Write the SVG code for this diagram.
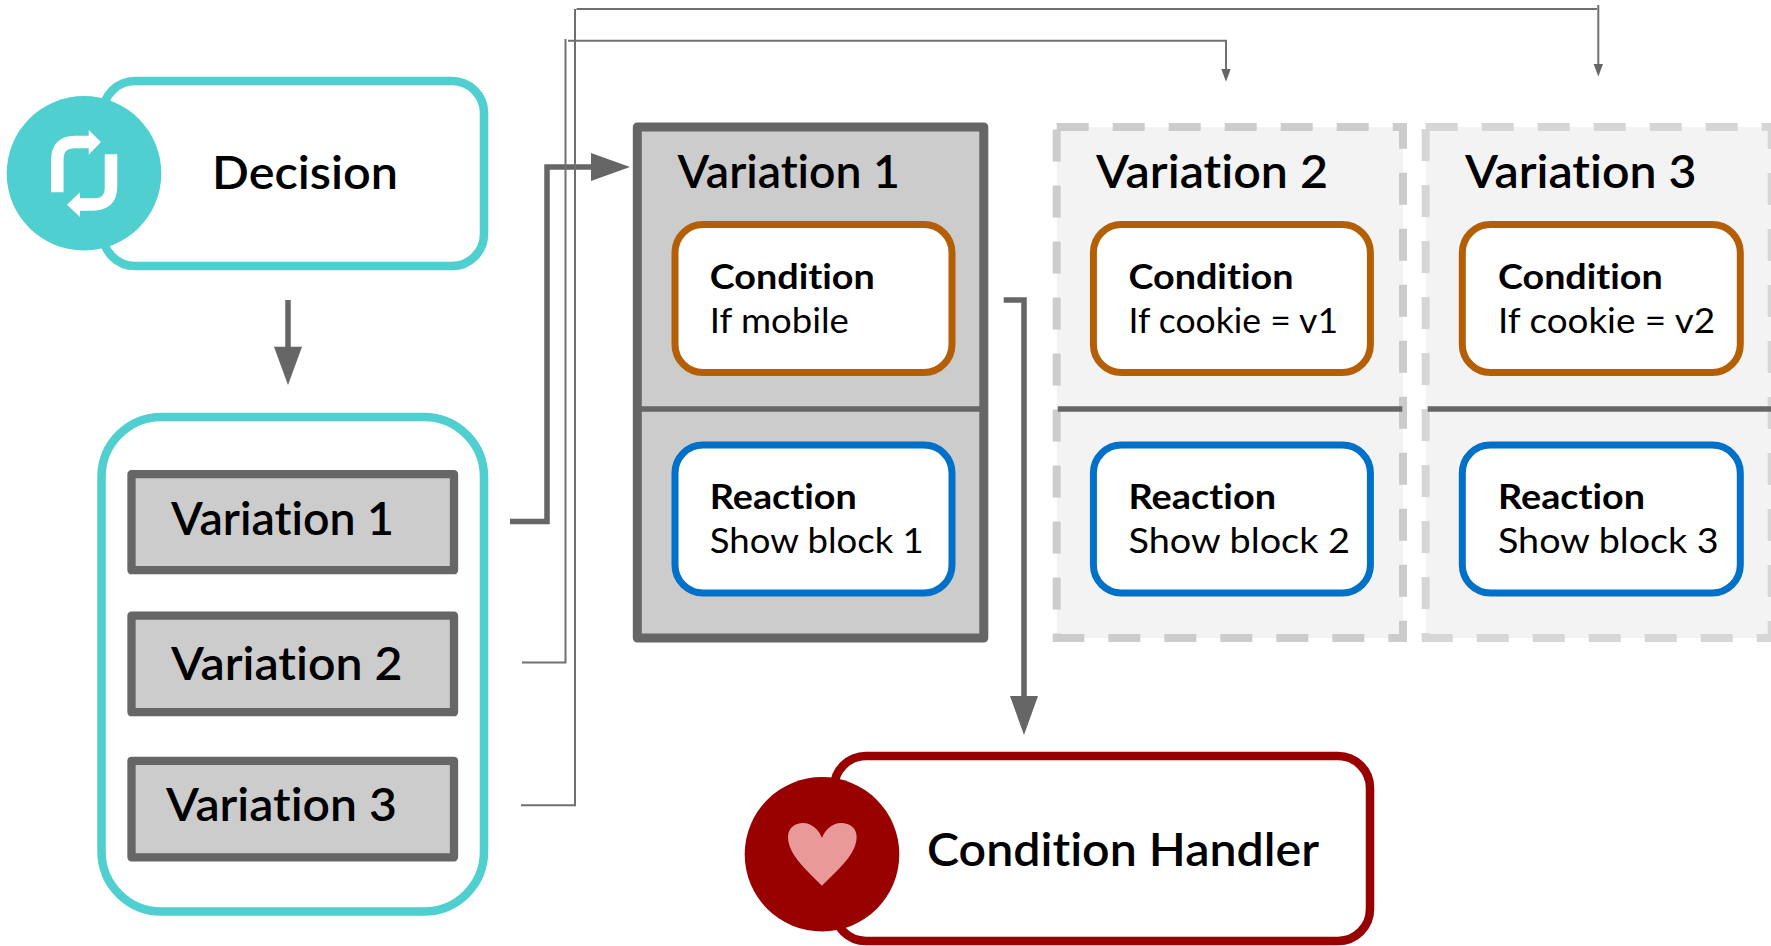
<svg xmlns="http://www.w3.org/2000/svg" width="1771" height="946" viewBox="0 0 1771 946">
<style>
text{font-family:"Lato","Liberation Sans",sans-serif;fill:#000;font-variant-ligatures:none}
.t{font-size:46px;font-weight:600}
.b{font-size:34px;font-weight:700}
.r{font-size:34px}
.thick{fill:none;stroke:#666;stroke-width:5.5}
.thin{fill:none;stroke:#707070;stroke-width:2}
.ah{fill:#666;stroke:none}
.item{fill:#ccc;stroke:#666;stroke-width:8.3;stroke-linejoin:round}
.teal{fill:#fff;stroke:#50cfd0;stroke-width:8.5}
.red{fill:#fff;stroke:#900;stroke-width:8.5}
.cond{fill:#fff;stroke:#b45f06;stroke-width:7}
.reac{fill:#fff;stroke:#0070c9;stroke-width:7}
.div{stroke:#666;stroke-width:5.5}
.dash{fill:#f3f3f3;stroke:#ccc;stroke-width:8;stroke-dasharray:32 24}
</style>
<g id="connectors">
<path class="thick" d="M288 300V350"/><path class="ah" d="M274 346.7H302L288 385Z"/>
<path class="thick" d="M510 521.6H547V167H595"/><path class="ah" d="M591 153L630 167L591 181Z"/>
<path class="thin" d="M522 662.4H565.5V39"/><path class="thin" d="M568 40.7H1226V70"/><path class="ah" d="M1221.3 69H1230.7L1226 81.7Z"/>
<path class="thin" d="M521 805.2H575V9"/><path class="thin" d="M576.5 9H1597"/><path class="thin" d="M1598.3 5V66"/><path class="ah" d="M1593.6 64H1603L1598.3 76.6Z"/>
<path class="thick" d="M1003.7 300H1024V700"/><path class="ah" d="M1010 696H1038L1024 735Z"/>
</g>
<g id="decision">
<rect class="teal" x="103" y="81" width="381" height="185" rx="32"/>
<circle cx="84" cy="173.3" r="77.3" fill="#50cfd0"/>
<path d="M57.3 192.3V160Q57.3 142 75 142H90M111 154.3V187Q111 204.5 93 204.5H79" fill="none" stroke="#fff" stroke-width="12.5"/>
<path d="M88.7 130L101 142L88.7 154.7ZM80 192.3L67 204.7L80 217Z" fill="#fff"/>
<text class="t" x="212" y="189" textLength="186" lengthAdjust="spacingAndGlyphs">Decision</text>
</g>
<g id="variation-list">
<rect class="teal" x="101.5" y="417" width="382.5" height="494.5" rx="60"/>
</g>
<g id="list-variation-1"><rect class="item" x="131.5" y="474.2" width="322.5" height="96"/>
<text class="t" x="171" y="534.8" textLength="223" lengthAdjust="spacingAndGlyphs">Variation 1</text></g>
<g id="list-variation-2"><rect class="item" x="131.5" y="615.7" width="322.5" height="96.5"/>
<text class="t" x="171" y="679.8" textLength="231.5" lengthAdjust="spacingAndGlyphs">Variation 2</text></g>
<g id="list-variation-3"><rect class="item" x="131.5" y="760.8" width="322.5" height="96.5"/>
<text class="t" x="166" y="821" textLength="231" lengthAdjust="spacingAndGlyphs">Variation 3</text></g>
<g id="variation-1">
<rect x="637.3" y="127" width="346.5" height="511" fill="#ccc" stroke="#666" stroke-width="9" stroke-linejoin="round"/>
<path class="div" d="M637 409H983"/>
<text class="t" x="677.5" y="187.5" textLength="222.5" lengthAdjust="spacingAndGlyphs">Variation 1</text>
<rect class="cond" x="675" y="224.5" width="277" height="148" rx="28"/>
<text class="b" x="709.8" y="289" textLength="165" lengthAdjust="spacingAndGlyphs">Condition</text>
<text class="r" x="709.8" y="332.5" textLength="139" lengthAdjust="spacingAndGlyphs">If mobile</text>
<rect class="reac" x="675" y="445" width="277" height="148" rx="28"/>
<text class="b" x="709.8" y="508.5" textLength="147" lengthAdjust="spacingAndGlyphs">Reaction</text>
<text class="r" x="709.8" y="553" textLength="214" lengthAdjust="spacingAndGlyphs">Show block 1</text>
</g>
<g id="variation-2">
<rect class="dash" x="1056.7" y="127" width="346.3" height="511"/>
<path class="div" d="M1057.8 409H1402.3"/>
<text class="t" x="1096" y="187.5" textLength="232" lengthAdjust="spacingAndGlyphs">Variation 2</text>
<rect class="cond" x="1093.4" y="224.5" width="277" height="148" rx="28"/>
<text class="b" x="1128.5" y="289" textLength="165" lengthAdjust="spacingAndGlyphs">Condition</text>
<text class="r" x="1128.5" y="332.5" textLength="209.5" lengthAdjust="spacingAndGlyphs">If cookie = v1</text>
<rect class="reac" x="1093.4" y="445" width="277" height="148" rx="28"/>
<text class="b" x="1128.5" y="508.5" textLength="147.5" lengthAdjust="spacingAndGlyphs">Reaction</text>
<text class="r" x="1128.5" y="553" textLength="221.5" lengthAdjust="spacingAndGlyphs">Show block 2</text>
</g>
<g id="variation-3">
<rect class="dash" x="1425.7" y="127" width="346" height="511" style="stroke:#d6d6d6"/>
<path class="div" d="M1427.7 409H1771"/>
<text class="t" x="1465" y="187.5" textLength="231.5" lengthAdjust="spacingAndGlyphs">Variation 3</text>
<rect class="cond" x="1462.3" y="224.5" width="278" height="148" rx="28"/>
<text class="b" x="1498" y="289" textLength="164.7" lengthAdjust="spacingAndGlyphs">Condition</text>
<text class="r" x="1498" y="332.5" textLength="217" lengthAdjust="spacingAndGlyphs">If cookie = v2</text>
<rect class="reac" x="1462.3" y="445" width="278" height="148" rx="28"/>
<text class="b" x="1498" y="508.5" textLength="147" lengthAdjust="spacingAndGlyphs">Reaction</text>
<text class="r" x="1498" y="553" textLength="220.7" lengthAdjust="spacingAndGlyphs">Show block 3</text>
</g>
<g id="condition-handler">
<rect class="red" x="834" y="756" width="536" height="185" rx="32"/>
<circle cx="822" cy="854.3" r="77.3" fill="#900"/>
<path d="M822 885.7C806 870 788 854 788 837C788 828 795 823 803 823C812 823 819 830 822 838C825 830 832 823 841 823C850 823 856.6 828 856.6 837C856.6 854 838 870 822 885.7Z" fill="#ea9999"/>
<text class="t" x="927" y="865.7" textLength="392" lengthAdjust="spacingAndGlyphs">Condition Handler</text>
</g>
</svg>
